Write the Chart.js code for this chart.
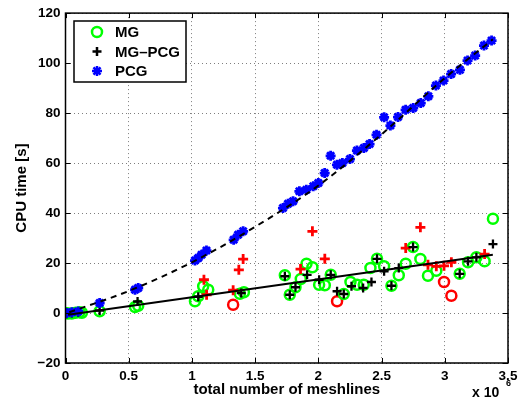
<!DOCTYPE html>
<html><head><meta charset="utf-8">
<script src="https://cdn.jsdelivr.net/npm/chart.js@4/dist/chart.umd.min.js"></script>
<style>html,body{margin:0;padding:0;background:#fff}#wrap{width:525px;height:411px}</style>
</head><body><div id="wrap"><canvas id="c" width="525" height="411"></canvas></div>
<script>
const xTickLabels = ['0','0.5','1','1.5','2','2.5','3','3.5'];
const yTickLabels = ['\u221220','0','20','40','60','80','100','120'];

const mgX = [0.0,0.02,0.05,0.08,0.11,0.13,0.27,0.55,0.575,1.024,1.05,1.089,1.129,1.379,1.411,1.735,1.774,1.819,1.861,1.906,1.953,2.006,2.051,2.098,2.201,2.254,2.306,2.359,2.412,2.464,2.52,2.578,2.636,2.691,2.749,2.807,2.867,2.933,3.118,3.184,3.25,3.315,3.381];
const mgY = [0.0,-0.2,-0.2,0.1,0.3,0.1,0.7,2.4,2.9,4.7,6.7,10.7,9.3,7.7,8.3,15.1,7.3,10.3,13.6,19.7,18.3,11.3,11.1,15.3,7.6,12.4,11.3,11.3,18.0,21.7,18.7,10.9,15.1,19.7,26.4,21.6,14.9,16.9,15.7,20.3,22.3,20.7,37.7];
const mgRedX = [1.326,2.148,2.994,3.052];
const mgRedY = [3.3,4.7,12.4,6.9];

const mgpcgX = [0.01,0.05,0.1,0.27,0.57,1.05,1.39,1.735,1.774,1.819,1.911,2.006,2.098,2.148,2.201,2.262,2.354,2.42,2.464,2.52,2.578,2.636,2.749,3.118,3.184,3.25,3.381];
const mgpcgY = [-0.3,0.0,0.3,1.0,4.6,6.5,8.0,14.7,7.3,10.3,15.3,13.3,15.3,8.7,7.6,10.7,10.0,12.4,21.7,16.7,10.9,18.0,26.4,15.7,20.7,22.3,27.6];
const mgpcgRedX = [1.095,1.116,1.326,1.371,1.405,1.859,1.953,2.051,2.691,2.807,2.867,2.933,2.994,3.052,3.315];
const mgpcgRedY = [13.3,7.3,9.1,17.3,21.6,17.6,32.7,21.7,26.0,34.3,19.3,18.7,18.9,20.3,23.6];

const pcgX = [0.01,0.05,0.1,0.27,0.55,0.575,1.024,1.05,1.076,1.115,1.33,1.365,1.405,1.72,1.76,1.80,1.85,1.905,1.96,2.0,2.05,2.097,2.147,2.19,2.25,2.305,2.36,2.405,2.46,2.52,2.57,2.63,2.69,2.75,2.81,2.87,2.93,2.99,3.05,3.12,3.18,3.24,3.31,3.37];
const pcgY = [0.0,0.3,0.6,4.0,9.3,10.0,21.0,22.0,23.3,25.0,29.3,31.3,32.7,42.0,43.7,44.7,48.7,49.3,50.7,52.0,56.0,62.9,59.3,60.0,61.6,65.0,66.0,67.6,71.3,78.3,75.0,78.4,81.3,82.0,84.0,86.7,91.0,93.0,95.6,97.3,101.0,103.0,107.0,109.0];

const pcgFitX = [0.03,0.5,1.0,1.5,2.0,2.5,3.0,3.38];
const pcgFitY = [0.3,8.8,20.3,34.5,51.0,71.5,94.0,109.5];
const mgFitX = [0.02,3.38];
const mgFitY = [-0.7,23.3];

const legendLabels = ['MG','MG\u2013PCG','PCG'];

const pts = (xs, ys) => xs.map((x,i)=>({x:x, y:ys[i]}));
const FONT = '"Liberation Sans", Arial, Helvetica, sans-serif';

const framePlugin = {
  id: 'frame',
  afterDraw(chart) {
    const {ctx, chartArea: a, scales} = chart;
    ctx.save();
    ctx.strokeStyle = '#000';
    ctx.lineWidth = 1;
    const tl = 5;
    ctx.beginPath();
    scales.x.ticks.forEach(t => {
      const px = Math.round(scales.x.getPixelForValue(t.value)) + 0.5;
      ctx.moveTo(px, a.bottom); ctx.lineTo(px, a.bottom - tl);
      ctx.moveTo(px, a.top); ctx.lineTo(px, a.top + tl);
    });
    scales.y.ticks.forEach(t => {
      const py = Math.round(scales.y.getPixelForValue(t.value)) + 0.5;
      ctx.moveTo(a.left, py); ctx.lineTo(a.left + tl, py);
      ctx.moveTo(a.right, py); ctx.lineTo(a.right - tl, py);
    });
    ctx.stroke();
    ctx.lineWidth = 1.5;
    ctx.strokeRect(a.left, a.top, a.right - a.left, a.bottom - a.top);

    // legend
    const lx = 74, ly = 21, lw = 112, lh = 61;
    ctx.fillStyle = '#fff';
    ctx.fillRect(lx, ly, lw, lh);
    ctx.lineWidth = 1.5;
    ctx.strokeStyle = '#000';
    ctx.strokeRect(lx, ly, lw, lh);
    const rows = [32, 51.5, 71];
    const mx = 97;
    ctx.lineWidth = 2.5; ctx.strokeStyle = '#00ff00';
    ctx.beginPath(); ctx.arc(mx, rows[0], 5, 0, Math.PI*2); ctx.stroke();
    ctx.strokeStyle = '#000'; ctx.lineWidth = 2.5;
    ctx.beginPath(); ctx.moveTo(mx-4.5, rows[1]); ctx.lineTo(mx+4.5, rows[1]);
    ctx.moveTo(mx, rows[1]-4.5); ctx.lineTo(mx, rows[1]+4.5); ctx.stroke();
    ctx.strokeStyle = '#0000ff'; ctx.lineWidth = 2.5;
    ctx.beginPath();
    for (let k=0;k<4;k++){ const ang = k*Math.PI/4; const r=5;
      ctx.moveTo(mx - r*Math.cos(ang), rows[2] - r*Math.sin(ang));
      ctx.lineTo(mx + r*Math.cos(ang), rows[2] + r*Math.sin(ang)); }
    ctx.stroke();
    ctx.fillStyle = '#000';
    ctx.font = 'bold 15px ' + FONT;
    ctx.textBaseline = 'middle'; ctx.textAlign = 'left';
    legendLabels.forEach((l,i)=> ctx.fillText(l, 115, rows[i]+1));

    // x 10^6
    ctx.font = 'bold 14px ' + FONT;
    ctx.textBaseline = 'alphabetic';
    ctx.fillText('x 10', 472, 397);
    ctx.font = 'bold 9px ' + FONT;
    ctx.fillText('6', 506, 386);
    ctx.restore();
  }
};

new Chart(document.getElementById('c'), {
  type: 'scatter',
  data: {
    datasets: [
      { label: 'MG fit', type: 'line', data: pts(mgFitX, mgFitY), borderColor: '#000', borderWidth: 2, pointRadius: 0, showLine: true, fill: false, order: 0 },
      { label: 'PCG fit', type: 'line', data: pts(pcgFitX, pcgFitY), borderColor: '#000', borderWidth: 2, borderDash: [6,5], pointRadius: 0, showLine: true, fill: false, cubicInterpolationMode: 'monotone', order: 0 },
      { label: 'MG', data: pts(mgX, mgY), pointStyle: 'circle', pointRadius: 5, borderWidth: 2.5, borderColor: '#00ff00', backgroundColor: 'rgba(0,0,0,0)', order: 5 },
      { label: 'MG red', data: pts(mgRedX, mgRedY), pointStyle: 'circle', pointRadius: 5, borderWidth: 2.5, borderColor: '#ff0000', backgroundColor: 'rgba(0,0,0,0)', order: 5 },
      { label: 'MG-PCG', data: pts(mgpcgX, mgpcgY), pointStyle: 'cross', pointRadius: 4.5, borderWidth: 2.3, borderColor: '#000', order: 4 },
      { label: 'MG-PCG red', data: pts(mgpcgRedX, mgpcgRedY), pointStyle: 'cross', pointRadius: 5, borderWidth: 2.8, borderColor: '#ff0000', order: 4 },
      { label: 'PCG', data: pts(pcgX, pcgY), pointStyle: 'star', pointRadius: 5, borderWidth: 2.8, borderColor: '#0000ff', backgroundColor: '#0000ff', order: 3 }
    ]
  },
  options: {
    responsive: false,
    animation: false,
    events: [],
    layout: { padding: { left: 0, right: 17, top: 13, bottom: 0 } },
    plugins: { legend: { display: false }, tooltip: { enabled: false } },
    scales: {
      x: {
        type: 'linear', min: 0, max: 3.5,
        afterFit: s => { s.height = 48; },
        ticks: { stepSize: 0.5, padding: 5, color: '#000', font: { family: FONT, size: 13.5, weight: 'bold' },
          callback: (v, i) => xTickLabels[i] },
        grid: { color: 'rgba(0,0,0,0.5)', drawTicks: false, lineWidth: 1 },
        border: { display: false, dash: [1,3] },
        title: { display: true, text: 'total number of meshlines', color: '#000', font: { family: FONT, size: 15, weight: 'bold' }, padding: { top: 0, bottom: 12 } }
      },
      y: {
        type: 'linear', min: -20, max: 120,
        afterFit: s => { s.width = 65.5; },
        ticks: { stepSize: 20, padding: 5, color: '#000', font: { family: FONT, size: 13.5, weight: 'bold' },
          callback: (v, i) => yTickLabels[i] },
        grid: { color: 'rgba(0,0,0,0.5)', drawTicks: false, lineWidth: 1 },
        border: { display: false, dash: [1,3] },
        title: { display: true, text: 'CPU time [s]', color: '#000', font: { family: FONT, size: 15, weight: 'bold' }, padding: { top: 13, bottom: 0 } }
      }
    }
  },
  plugins: [framePlugin]
});
</script></body></html>
